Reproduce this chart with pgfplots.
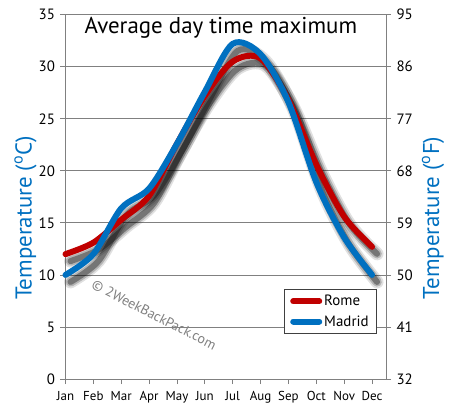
\documentclass[border=0pt]{standalone}
\usepackage{pgfplots}
\pgfplotsset{compat=1.18}
\usepackage{pgfplotstable}
\usepackage{fontspec}
\setmainfont{PT Sans}
\definecolor{romered}{HTML}{C00000}
\definecolor{madblue}{HTML}{0070C0}
\pgfplotstableread{
m rome madrid
0 12.0 10.0
1 13.1 12.0
2 15.3 16.4
3 17.6 18.3
4 22.6 22.6
5 27.2 27.6
6 30.5 32.2
7 30.8 31.2
8 26.8 26.6
9 20.6 18.9
10 15.6 13.6
11 12.7 10.0
}\data
\pgfplotsset{shad/.style={forget plot, black, smooth, line cap=round, xshift=5bp, yshift=-7bp}}
\begin{document}
\begin{tikzpicture}
\useasboundingbox (-65.5bp,-41bp) rectangle (384.5bp,379bp);
\begin{axis}[
  at={(0,0)}, anchor=south west,
  scale only axis, width=320.5bp, height=364.3bp,
  xmin=0, xmax=11.5, ymin=0, ymax=35,
  axis line style={draw=gray, line width=0.8bp},
  xtick={0,...,11},
  xticklabels={Jan,Feb,Mar,Apr,May,Jun,Jul,Aug,Sep,Oct,Nov,Dec},
  ytick={0,5,...,35},
  tick align=outside, major tick length=5bp,
  tick style={draw=gray, line width=0.8bp},
  xtick pos=bottom, ytick pos=left,
  ymajorgrids, grid style={draw=gray, line width=0.8bp},
  /pgf/number format/assume math mode=true,
  yticklabel style={font=\fontsize{15}{15}\selectfont, xshift=-2bp},
  xticklabel style={font=\fontsize{13}{13}\selectfont, yshift=-4bp},
  legend style={at={(rel axis cs:0.972,0.247)}, anchor=north east,
    draw=black!75, line width=0.8bp, font=\fontsize{15}{17}\selectfont,
    inner xsep=6bp, inner ysep=4bp, row sep=4bp},
  legend cell align=left,
  legend image code/.code={\draw[line width=6bp, line cap=round] (0bp,0bp) -- (26bp,0bp);},
  clip=false,
]
% shadows
\addplot[shad, opacity=0.12, line width=13bp] table[x=m,y=rome]{\data};
\addplot[shad, opacity=0.12, line width=13bp] table[x=m,y=madrid]{\data};
\addplot[shad, opacity=0.2, line width=9.5bp] table[x=m,y=rome]{\data};
\addplot[shad, opacity=0.2, line width=9.5bp] table[x=m,y=madrid]{\data};
\addplot[shad, opacity=0.35, line width=6bp] table[x=m,y=rome]{\data};
\addplot[shad, opacity=0.35, line width=6bp] table[x=m,y=madrid]{\data};
\addplot[romered, line width=6bp, smooth, line cap=round] table[x=m,y=rome]{\data};
\addlegendentry{Rome}
\addplot[madblue, line width=6bp, smooth, line cap=round] table[x=m,y=madrid]{\data};
\addlegendentry{Madrid}
\node[font=\fontsize{23}{23}\selectfont] at (rel axis cs:0.485,0.963) {Average day time maximum};
\node[font=\fontsize{23}{23}\selectfont, text=madblue, rotate=90] at ([xshift=-40bp]rel axis cs:0,0.442) {Temperature (\textsuperscript{o}C)};
\node[font=\fontsize{23}{23}\selectfont, text=madblue, rotate=90] at ([xshift=47bp]rel axis cs:1,0.442) {Temperature (\textsuperscript{o}F)};
\node[font=\fontsize{14}{14}\selectfont, text=gray, rotate=-27] at (axis cs:3.18,6.15) {\textcopyright{} 2WeekBackPack.com};
\end{axis}
\begin{axis}[
  at={(0,0)}, anchor=south west,
  scale only axis, width=320.5bp, height=364.3bp,
  xmin=0, xmax=11.5, ymin=0, ymax=35,
  axis x line=none, axis y line*=right,
  axis line style={draw=gray, line width=0.8bp},
  ytick={0,5,...,35},
  yticklabels={32,41,50,59,68,77,86,95},
  tick align=outside, major tick length=5bp,
  tick style={draw=gray, line width=0.8bp},
  /pgf/number format/assume math mode=true,
  yticklabel style={font=\fontsize{15}{15}\selectfont, xshift=2bp},
]
\end{axis}
\end{tikzpicture}
\end{document}
